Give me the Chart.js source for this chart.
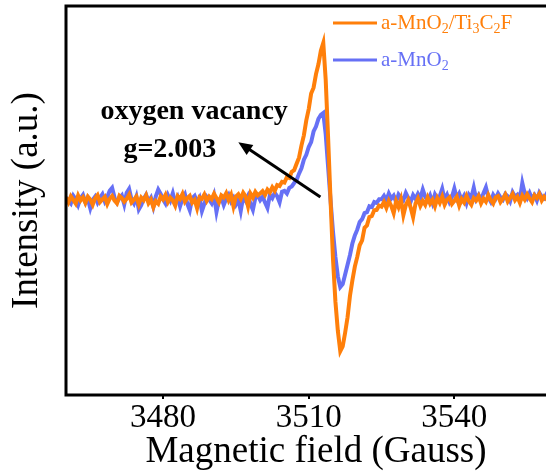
<!DOCTYPE html>
<html>
<head>
<meta charset="utf-8">
<script src="https://cdn.jsdelivr.net/npm/chart.js@4/dist/chart.umd.min.js"></script>
<style>
  html, body { margin: 0; padding: 0; background: #fff; overflow: hidden; }
  #wrap { width: 566px; height: 475px; }
</style>
</head>
<body>
<div id="wrap"><canvas id="epr"></canvas></div>
<script>
// sampling grid of the field sweep (Gauss)
var fieldStart = 3460;
var fieldStep = 0.5;
var xTicks = [3480, 3510, 3540];

// a-MnO2/Ti3C2F
var compositeSignal = [
  1.5, -1.0, 2.2, 0.3, -1.6, 2.6, 0.0, 1.6, -1.3, 2.0, 0.5, -2.2, 1.2, 2.8, -0.8, 0.6, 1.9, -1.8, 0.9, 2.3,
  -0.1, -1.5, 2.4, 1.2, -0.6, 0.8, 3.0, -1.0, 0.4, 2.0, -2.0, 1.5, 0.1, 2.6, -1.4, 0.5, -3.5, -0.3, -1.6, 2.1,
  0.6, 2.9, -0.8, 1.5, 0.1, -2.6, 2.2, 0.8, 3.4, -0.6, 1.2, 2.4, -1.1, 0.3, -4.0, 1.6, 0.9, 3.1, -0.2, 2.0,
  0.7, 3.5, 1.2, -1.0, 2.6, 1.5, 3.8, 0.2, 2.9, -3.0, 2.0, 3.2, 0.9, 4.0, 2.1, -3.0, 3.6, 1.5, 4.4, 2.6,
  3.6, 4.8, 2.9, 5.6, 4.2, 6.8, 5.0, 7.9, 7.4, 9.6, 9.2, 12.0, 11.6, 14.8, 15.6, 18.9, 22.0, 28.2, 33.5, 41.2,
  47.0, 55.0, 58.0, 65.0, 70.0, 77.0, 81.0, 62.0, 32.0, 0.0, -30.0, -52.0, -67.0, -77.5, -75.0, -68.0, -60.0, -49.0, -41.0, -34.0,
  -29.0, -23.0, -20.5, -14.0, -12.8, -8.5, -8.0, -5.0, -4.8, -2.6, -3.2, -0.8, -3.8, -0.2, -2.8, -6.5, -0.4, -3.4, 0.5, -7.5,
  -2.4, 0.2, -3.6, -8.5, -1.6, 1.0, -2.8, -0.2, -2.2, 1.5, -1.6, 0.4, -3.0, 1.2, -1.2, 2.0, -2.2, 0.4, 1.6, -1.8,
  -0.2, 1.8, -2.6, 0.8, -1.0, 2.4, -0.4, -2.2, 1.3, 0.0, 2.2, -1.5, 1.0, -0.6, 2.8, 0.2, -1.6, 1.6, 2.3, -0.8,
  1.0, 3.0, -0.5, 1.4, 3.4, 0.2, 1.9, -1.2, 2.5, 0.5, 3.2, 1.0, -0.8, 2.7, 1.3, 3.4, 0.0, 2.0, 0.6, 3.0,
  0.8, 2.4, -0.2, 3.1, 1.2, 2.2, 0.9
];

// a-MnO2
var mno2Signal = [
  1.6, 0.0, -1.5, 2.4, 0.6, -2.4, 1.2, 2.9, -0.9, 0.8, -4.0, 0.3, 2.0, -1.1, 1.4, 3.2, -0.5, 1.8, 5.0, 6.5,
  1.5, -1.0, 1.2, 2.6, -2.0, 4.0, 6.0, 0.6, -1.5, 2.1, -4.6, -2.4, 0.9, 3.0, -0.6, 1.4, -3.2, 2.2, 5.6, 3.4,
  0.5, -1.6, 2.7, 0.0, 3.8, -1.1, 1.6, -2.9, 1.0, 3.2, -1.7, -5.0, 1.2, 2.4, -0.8, 1.4, -5.4, -1.7, 1.9, 0.4,
  -1.4, 2.5, -5.8, 0.2, 1.6, -2.3, 0.9, 2.9, -0.5, 1.4, -2.0, 0.5, -5.4, 1.8, -0.2, 2.4, -1.7, -4.8, 1.2, 2.6,
  0.2, 1.9, -1.0, -3.8, 2.8, 1.2, 4.0, 2.2, -0.9, 4.5, 5.0, 3.6, 6.5, 7.2, 9.0, 10.5, 13.8, 16.5, 21.0, 23.5,
  27.5, 30.0, 35.5, 38.0, 42.0, 44.0, 45.0, 34.0, 17.0, 0.0, -16.0, -29.0, -39.0, -44.5, -43.0, -38.0, -33.0, -28.0, -22.0, -18.0,
  -15.0, -11.0, -9.6, -6.5, -6.0, -3.0, -3.4, -0.8, -1.2, 0.6, 0.6, 2.4, 0.0, 3.6, 1.0, 2.5, -0.8, 3.1, 1.5, 0.2,
  3.9, 1.4, -0.6, 2.8, 0.8, 3.4, 1.2, 5.6, 1.9, 0.0, 2.6, -1.2, 3.2, 1.0, 2.2, 6.0, 0.4, 2.9, -0.7, 1.8,
  6.2, 1.2, 3.5, 0.1, 2.4, -1.4, 3.0, 1.4, 6.6, 0.7, 2.8, 0.2, 3.8, 6.8, 1.7, -0.6, 2.9, 0.9, 3.6, 1.6,
  0.4, 3.3, 2.2, -0.3, 4.2, 1.9, 3.0, 0.6, 9.0, 3.6, 1.2, 3.9, 0.9, 2.8, 0.0, 4.0, 2.0, 1.1, 3.4, 1.5,
  4.2, 0.7, 3.0, 2.1, 0.3, 3.6, 1.7
];

var orange = '#FF7F0A';
var blue = '#6670F5';
var serif = '"Liberation Serif", "Times New Roman", serif';

function toPoints(values) {
  var pts = [];
  for (var i = 0; i < values.length; i++) {
    pts.push({ x: fieldStart + i * fieldStep, y: values[i] });
  }
  return pts;
}

// frame round the plot area (top/right sides too)
var framePlugin = {
  id: 'frame',
  afterDatasetsDraw: function (chart) {
    var a = chart.chartArea, ctx = chart.ctx;
    ctx.save();
    ctx.strokeStyle = '#000';
    ctx.lineWidth = 3;
    ctx.strokeRect(a.left, a.top, a.right - a.left, a.bottom - a.top);
    ctx.restore();
  }
};

// draws text pieces, some of them as subscripts
function drawRich(ctx, parts, x, y, size, color) {
  ctx.fillStyle = color;
  ctx.textBaseline = 'middle';
  ctx.textAlign = 'left';
  parts.forEach(function (p) {
    var s = p[1] ? Math.round(size * 0.68) : size;
    ctx.font = s + 'px ' + serif;
    ctx.fillText(p[0], x, p[1] ? y + size * 0.28 : y);
    x += ctx.measureText(p[0]).width;
  });
}

var legendPlugin = {
  id: 'richLegend',
  afterDraw: function (chart) {
    var ctx = chart.ctx;
    var a = chart.chartArea;
    var x0 = a.left + 267, y0 = a.top + 17;
    ctx.save();
    ctx.lineWidth = 3;
    ctx.strokeStyle = orange;
    ctx.beginPath(); ctx.moveTo(x0, y0); ctx.lineTo(x0 + 44, y0); ctx.stroke();
    drawRich(ctx, [['a-MnO', 0], ['2', 1], ['/Ti', 0], ['3', 1], ['C', 0], ['2', 1], ['F', 0]], x0 + 48, y0, 21, orange);
    ctx.strokeStyle = blue;
    ctx.beginPath(); ctx.moveTo(x0, y0 + 37); ctx.lineTo(x0 + 44, y0 + 37); ctx.stroke();
    drawRich(ctx, [['a-MnO', 0], ['2', 1]], x0 + 48, y0 + 37, 21, blue);
    ctx.restore();
  }
};

var notePlugin = {
  id: 'note',
  afterDraw: function (chart) {
    var ctx = chart.ctx, xs = chart.scales.x, ys = chart.scales.y;
    var tx = xs.getPixelForValue(3512.4), ty = ys.getPixelForValue(1.8);
    var hx = xs.getPixelForValue(3495.5), hy = ys.getPixelForValue(30);
    var ang = Math.atan2(hy - ty, hx - tx);
    ctx.save();
    ctx.strokeStyle = '#000';
    ctx.fillStyle = '#000';
    ctx.lineWidth = 3;
    ctx.beginPath();
    ctx.moveTo(tx, ty);
    ctx.lineTo(hx - 8 * Math.cos(ang), hy - 8 * Math.sin(ang));
    ctx.stroke();
    ctx.beginPath();
    ctx.moveTo(hx, hy);
    ctx.lineTo(hx - 14 * Math.cos(ang) + 6 * Math.sin(ang), hy - 14 * Math.sin(ang) - 6 * Math.cos(ang));
    ctx.lineTo(hx - 14 * Math.cos(ang) - 6 * Math.sin(ang), hy - 14 * Math.sin(ang) + 6 * Math.cos(ang));
    ctx.closePath();
    ctx.fill();
    ctx.font = 'bold 28px ' + serif;
    ctx.textAlign = 'center';
    ctx.textBaseline = 'middle';
    ctx.fillText('oxygen vacancy', xs.getPixelForValue(3486.4), ys.getPixelForValue(45.5));
    ctx.fillText('g=2.003', xs.getPixelForValue(3481.4), ys.getPixelForValue(26));
    ctx.restore();
  }
};

var ctx = document.getElementById('epr').getContext('2d');
var chart = new Chart(ctx, {
  type: 'line',
  data: {
    datasets: [{
      label: 'a-MnO2/Ti3C2F',
      data: toPoints(compositeSignal),
      borderColor: orange,
      borderWidth: 4,
      pointRadius: 0,
      tension: 0,
      fill: false
    }, {
      label: 'a-MnO2',
      data: toPoints(mno2Signal),
      borderColor: blue,
      borderWidth: 4,
      pointRadius: 0,
      tension: 0,
      fill: false
    }]
  },
  options: {
    responsive: true,
    maintainAspectRatio: false,
    animation: false,
    layout: { padding: { top: 6, left: 0, right: 0, bottom: 0 } },
    plugins: { legend: { display: false }, tooltip: { enabled: false } },
    scales: {
      x: {
        type: 'linear',
        min: 3460,
        max: 3563,
        afterBuildTicks: function (axis) {
          axis.ticks = xTicks.map(function (v) { return { value: v }; });
        },
        afterFit: function (axis) { axis.height = 80; },
        border: { display: false },
        grid: { drawOnChartArea: false, drawTicks: true, tickLength: 4, color: '#000', lineWidth: 2 },
        ticks: {
          color: '#000',
          font: { family: serif, size: 33 },
          padding: 0,
          maxRotation: 0,
          callback: function (v) { return String(v); }
        },
        title: { display: true, text: 'Magnetic field (Gauss)', color: '#000', font: { family: serif, size: 37 }, padding: { top: 0, bottom: 1 } }
      },
      y: {
        min: -100,
        max: 100,
        afterFit: function (axis) { axis.width = 66; },
        border: { display: false },
        grid: { display: false },
        ticks: { display: false },
        title: { display: true, text: 'Intensity (a.u.)', color: '#000', font: { family: serif, size: 37 }, padding: { top: 5, bottom: 0 } }
      }
    }
  },
  plugins: [framePlugin, legendPlugin, notePlugin]
});
</script>
</body>
</html>
